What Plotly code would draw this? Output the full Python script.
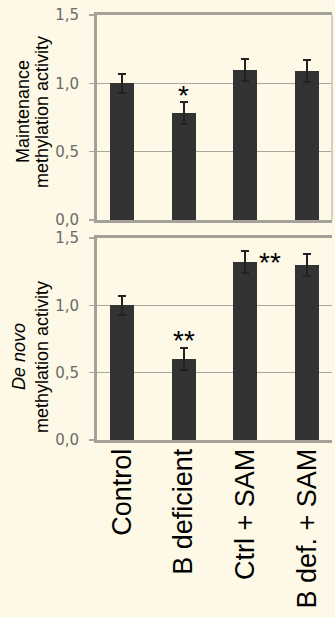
import plotly.graph_objects as go

categories = ["Control", "B deficient", "Ctrl + SAM", "B def. + SAM"]
maintenance = [1.00, 0.78, 1.10, 1.09]
maintenance_err = [0.07, 0.08, 0.08, 0.08]
denovo = [1.00, 0.60, 1.32, 1.30]
denovo_err = [0.07, 0.08, 0.08, 0.08]
ytick_vals = [0.0, 0.5, 1.0, 1.5]
ytick_text = ["0,0", "0,5", "1,0", "1,5"]

BG = "#FDF9E6"
BAR = "#333333"
AX = "#A3A19A"
GRID = "#A9A79E"

fig = go.Figure()
x_idx = list(range(len(categories)))

fig.add_trace(go.Bar(x=x_idx, y=maintenance, width=0.39, marker=dict(color=BAR, line=dict(width=0)),
                     error_y=dict(type="data", array=maintenance_err, color="#222222", thickness=2, width=4),
                     xaxis="x", yaxis="y", showlegend=False, hoverinfo="skip"))
fig.add_trace(go.Bar(x=x_idx, y=denovo, width=0.39, marker=dict(color=BAR, line=dict(width=0)),
                     error_y=dict(type="data", array=denovo_err, color="#222222", thickness=2, width=4),
                     xaxis="x2", yaxis="y2", showlegend=False, hoverinfo="skip"))

H = 617.0
W = 335.0
xdom = [97 / W, 332 / W]
common_y = dict(range=[0, 1.5], tickvals=ytick_vals, ticktext=ytick_text, showgrid=True,
                gridcolor=GRID, gridwidth=1.5, showline=True, linecolor=AX, linewidth=3,
                ticks="outside", ticklen=5, tickcolor=GRID, tickwidth=1.5,
                tickfont=dict(family="DejaVu Sans", size=15, color="#6a6a6a"),
                ticklabelstandoff=7, zeroline=False, fixedrange=True, automargin=False)
fig.update_layout(
    width=335, height=617, margin=dict(l=0, r=0, t=0, b=0, autoexpand=False),
    paper_bgcolor=BG, plot_bgcolor=BG, bargap=0,
    xaxis=dict(domain=xdom, range=[-0.4, 3.4], anchor="y", showticklabels=False, ticks="",
               showline=True, mirror=True, linecolor=AX, linewidth=3, showgrid=False, zeroline=False,
               automargin=False, fixedrange=True),
    yaxis=dict(domain=[1 - 220 / H, 1 - 15 / H], anchor="x", **common_y),
    xaxis2=dict(domain=xdom, range=[-0.4, 3.4], anchor="y2", tickvals=x_idx, ticktext=categories,
                tickangle=-90, ticks="", showline=True, mirror=True, linecolor=AX, linewidth=3,
                showgrid=False, zeroline=False, ticklabelstandoff=-5, automargin=False, fixedrange=True,
                tickfont=dict(family="Liberation Sans, Arial", size=27, color="#000000")),
    yaxis2=dict(domain=[1 - 440 / H, 1 - 238 / H], anchor="x2", **common_y),
)

# faint right border of the upper panel
fig.add_shape(type="line", xref="x domain", yref="y domain", x0=1, x1=1, y0=0, y1=1,
              line=dict(color="#D3D0C2", width=2))


def ytitle(text, xpx, ypx):
    fig.add_annotation(xref="paper", yref="paper", x=xpx / W, y=1 - ypx / H, text=text,
                       textangle=-90, showarrow=False, xanchor="center", yanchor="middle",
                       font=dict(family="Liberation Sans, Arial", size=18, color="#000000"))


ytitle("Maintenance", 23, 112)
ytitle("methylation activity", 42, 112)
ytitle("<i>De novo</i>", 19, 357)
ytitle("methylation activity", 42, 357)

star_font = dict(family="Liberation Sans, Arial", size=28, color="#000")
fig.add_annotation(x=1, y=0.91, xref="x", yref="y", text="*", showarrow=False, font=star_font, yanchor="middle")
fig.add_annotation(x=1, y=0.74, xref="x2", yref="y2", text="**", showarrow=False, font=star_font, yanchor="middle")
fig.add_annotation(x=2.4, y=1.32, xref="x2", yref="y2", text="**", showarrow=False, font=star_font, yanchor="middle")

fig.write_html("out.html", config={"displayModeBar": False, "staticPlot": True},
               post_script="document.body.style.margin='0';document.body.style.overflow='hidden';")
